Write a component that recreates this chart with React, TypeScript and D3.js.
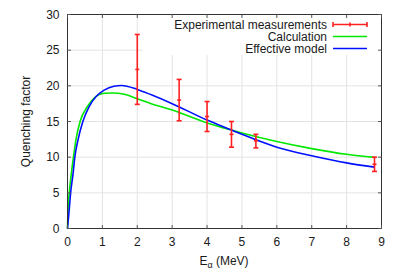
import * as d3 from "d3";

// measured points (E in MeV, quenching factor, +/- error)
const measE = [2.0, 3.2, 4.0, 4.7, 5.4, 8.8];
const measQ = [22.3, 18.0, 15.7, 13.2, 12.3, 9.0];
const measLo = [17.4, 15.1, 13.6, 11.4, 11.3, 8.0];
const measHi = [27.2, 20.9, 17.8, 15.0, 13.2, 10.0];

// "Calculation" curve
const calcE = [0, 0.01, 0.05, 0.11, 0.17, 0.24, 0.36, 0.57, 0.81, 1.05, 1.3, 1.6, 2, 2.4, 3, 4, 4.7, 5, 6, 7, 8, 8.8];
const calcQ = [0, 2.1, 5, 7.7, 10, 12.4, 15, 17.1, 18.5, 18.95, 19.0, 18.85, 18.2, 17.5, 16.6, 14.8, 13.8, 13.4, 12.2, 11.2, 10.4, 9.97];

// "Effective model" curve
const effE = [0, 0.04, 0.09, 0.16, 0.21, 0.3, 0.44, 0.62, 0.82, 1.05, 1.33, 1.55, 2, 2.42, 3, 4, 4.7, 5, 6, 7, 8, 8.8];
const effQ = [0, 2.1, 5, 7.7, 10, 12.4, 15, 17.1, 18.5, 19.4, 19.95, 20.05, 19.5, 18.7, 17.5, 15.2, 13.8, 13.2, 11.4, 10.2, 9.2, 8.6];

const xTicks = [0, 1, 2, 3, 4, 5, 6, 7, 8, 9];
const yTicks = [0, 5, 10, 15, 20, 25, 30];

const legendLabels = ["Experimental measurements", "Calculation", "Effective model"];

const WIDTH = 400;
const HEIGHT = 280;
const LEFT = 67.5;
const RIGHT = 381.5;
const TOP = 14.5;
const BOTTOM = 228.5;
const FONT = "'Liberation Sans', Arial, Helvetica, sans-serif";
const TEXT = "#1a1a1a";
const RED = "#ff2020";
const GREEN = "#00e800";
const BLUE = "#0010ff";

const App = () => {
    const x = d3.scaleLinear().domain([0, 9]).range([LEFT, RIGHT]);
    const y = d3.scaleLinear().domain([0, 30]).range([BOTTOM, TOP]);

    const line = d3
        .line<number>()
        .curve(d3.curveMonotoneX);

    const calcPath = line.x((_, i) => x(calcE[i])).y((_, i) => y(calcQ[i]))(calcE) || undefined;
    const effPath = line.x((_, i) => x(effE[i])).y((_, i) => y(effQ[i]))(effE) || undefined;

    const legendRows = [24.5, 36.5, 48.5];
    const textRight = 327;
    const sampleL = 333;
    const sampleR = 367;

    return (
        <svg
            width={WIDTH}
            height={HEIGHT}
            style={{ position: "absolute", left: 0, top: 0, background: "#fff" }}
            fontFamily={FONT}
        >
            {/* grid */}
            {xTicks.map((t) => (
                <line key={"gx" + t} x1={x(t)} x2={x(t)} y1={TOP} y2={BOTTOM} stroke="#e3e3e3" strokeWidth={1} />
            ))}
            {yTicks.map((t) => (
                <line key={"gy" + t} x1={LEFT} x2={RIGHT} y1={y(t)} y2={y(t)} stroke="#e3e3e3" strokeWidth={1} />
            ))}

            {/* opaque legend box */}
            <rect x={143} y={TOP} width={RIGHT - 143} height={55 - TOP} fill="#fff" />

            {/* curves */}
            <path d={calcPath} fill="none" stroke={GREEN} strokeWidth={1.6} />
            <path d={effPath} fill="none" stroke={BLUE} strokeWidth={1.6} />

            {/* error bars */}
            {measE.map((e, i) => {
                const cx = x(e);
                return (
                    <g key={"err" + i} stroke={RED} strokeWidth={1.6}>
                        <line x1={cx} x2={cx} y1={y(measLo[i])} y2={y(measHi[i])} />
                        <line x1={cx - 2.5} x2={cx + 2.5} y1={y(measLo[i])} y2={y(measLo[i])} />
                        <line x1={cx - 2.5} x2={cx + 2.5} y1={y(measHi[i])} y2={y(measHi[i])} />
                        <line x1={cx - 2} x2={cx + 2} y1={y(measQ[i])} y2={y(measQ[i])} />
                    </g>
                );
            })}

            {/* border and ticks */}
            <rect x={LEFT} y={TOP} width={RIGHT - LEFT} height={BOTTOM - TOP} fill="none" stroke="#333" strokeWidth={1} />
            {xTicks.map((t) => (
                <g key={"tx" + t} stroke="#555" strokeWidth={1}>
                    <line x1={x(t)} x2={x(t)} y1={BOTTOM} y2={BOTTOM - 3.5} />
                    <line x1={x(t)} x2={x(t)} y1={TOP} y2={TOP + 3.5} />
                </g>
            ))}
            {yTicks.map((t) => (
                <g key={"ty" + t} stroke="#555" strokeWidth={1}>
                    <line x1={LEFT} x2={LEFT + 3.5} y1={y(t)} y2={y(t)} />
                    <line x1={RIGHT} x2={RIGHT - 3.5} y1={y(t)} y2={y(t)} />
                </g>
            ))}

            {/* tick labels */}
            {xTicks.map((t) => (
                <text key={"lx" + t} x={x(t)} y={245.5} fontSize={12} fill={TEXT} textAnchor="middle">
                    {t}
                </text>
            ))}
            {yTicks.map((t) => (
                <text key={"ly" + t} x={59.5} y={y(t) + 4.3} fontSize={12} fill={TEXT} textAnchor="end">
                    {t}
                </text>
            ))}

            {/* axis titles */}
            <text x={224} y={265} fontSize={12} fill={TEXT} textAnchor="middle">
                E<tspan fontSize={9} dy={3}>α</tspan>
                <tspan dy={-3}> (MeV)</tspan>
            </text>
            <text
                transform={`translate(29.5, ${(TOP + BOTTOM) / 2}) rotate(-90)`}
                fontSize={12}
                fill={TEXT}
                textAnchor="middle"
            >
                Quenching factor
            </text>

            {/* legend */}
            {legendLabels.map((label, i) => (
                <text key={"lg" + i} x={textRight} y={legendRows[i] + 4.3} fontSize={12} fill={TEXT} textAnchor="end">
                    {label}
                </text>
            ))}
            <g stroke={RED} strokeWidth={1.6}>
                <line x1={sampleL} x2={sampleR} y1={legendRows[0]} y2={legendRows[0]} />
                <line x1={sampleL} x2={sampleL} y1={legendRows[0] - 2.5} y2={legendRows[0] + 2.5} />
                <line x1={sampleR} x2={sampleR} y1={legendRows[0] - 2.5} y2={legendRows[0] + 2.5} />
                <line x1={(sampleL + sampleR) / 2} x2={(sampleL + sampleR) / 2} y1={legendRows[0] - 2} y2={legendRows[0] + 2} />
            </g>
            <line x1={sampleL} x2={sampleR} y1={legendRows[1]} y2={legendRows[1]} stroke={GREEN} strokeWidth={1.6} />
            <line x1={sampleL} x2={sampleR} y1={legendRows[2]} y2={legendRows[2]} stroke={BLUE} strokeWidth={1.6} />
        </svg>
    );
};

export default App;
